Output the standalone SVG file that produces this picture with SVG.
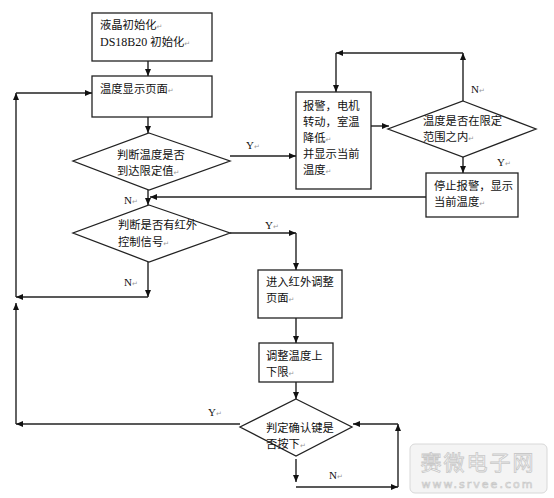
<svg xmlns="http://www.w3.org/2000/svg" width="554" height="498" viewBox="0 0 554 498">
<style>
.box{fill:#fff;stroke:#222;stroke-width:1.3}
.t{font-family:"Noto Sans CJK SC","Liberation Sans",sans-serif;font-size:11.3px;fill:#111}
.lat{font-family:"Liberation Serif",serif;font-size:12px}
.lbl{font-family:"Liberation Serif",serif;font-size:11px;fill:#111}
.pm{font-family:"DejaVu Sans",sans-serif;font-size:7px;fill:#999}
.c line{stroke:#222;stroke-width:1.4;marker-end:url(#ah)}
</style>
<defs>
<marker id="ah" markerUnits="userSpaceOnUse" markerWidth="7" markerHeight="6" refX="7" refY="3" orient="auto">
<path d="M0,0 L7,3 L0,6 z" fill="#111"/>
</marker>
</defs>
<rect width="554" height="498" fill="#fff"/>

<g id="init">
<rect class="box" x="92" y="13" width="120" height="48"/>
<text class="t" x="100" y="29">液晶初始化<tspan class="pm">↵</tspan></text>
<text class="t" x="100" y="46"><tspan class="lat">DS18B20 </tspan>初始化<tspan class="pm">↵</tspan></text>
</g>
<g id="display">
<rect class="box" x="92" y="76" width="120" height="41"/>
<text class="t" x="100" y="93">温度显示页面<tspan class="pm">↵</tspan></text>
</g>
<g id="d1">
<polygon class="box" points="149,133 230,161 149,190 73,161"/>
<text class="t" x="117" y="159">判断温度是否</text>
<text class="t" x="117" y="175">到达限定值<tspan class="pm">↵</tspan></text>
</g>
<g id="alarm">
<rect class="box" x="296" y="92" width="75" height="97"/>
<text class="t" x="303" y="110">报警，电机</text>
<text class="t" x="303" y="126">转动，室温</text>
<text class="t" x="303" y="142">降低<tspan class="pm">↵</tspan></text>
<text class="t" x="303" y="158">并显示当前</text>
<text class="t" x="303" y="174">温度<tspan class="pm">↵</tspan></text>
</g>
<g id="d2">
<polygon class="box" points="463,101 536,129 463,157 388,129"/>
<text class="t" x="423" y="125">温度是否在限定</text>
<text class="t" x="423" y="141">范围之内<tspan class="pm">↵</tspan></text>
</g>
<g id="stop">
<rect class="box" x="426" y="173" width="92" height="44"/>
<text class="t" x="434" y="190">停止报警，显示</text>
<text class="t" x="434" y="206">当前温度<tspan class="pm">↵</tspan></text>
</g>
<g id="d3">
<polygon class="box" points="149,205 230,233 149,262 73,233"/>
<text class="t" x="118" y="229">判断是否有红外</text>
<text class="t" x="118" y="246">控制信号<tspan class="pm">↵</tspan></text>
</g>
<g id="ir">
<rect class="box" x="258" y="270" width="84" height="48"/>
<text class="t" x="266" y="286">进入红外调整</text>
<text class="t" x="266" y="302">页面<tspan class="pm">↵</tspan></text>
</g>
<g id="adjust">
<rect class="box" x="259" y="343" width="74" height="39"/>
<text class="t" x="266" y="360">调整温度上</text>
<text class="t" x="266" y="376">下限<tspan class="pm">↵</tspan></text>
</g>
<g id="d4">
<polygon class="box" points="296,399 352,427 296,456 240,427"/>
<text class="t" x="266" y="432">判定确认键是</text>
<text class="t" x="266" y="448">否按下<tspan class="pm">↵</tspan></text>
</g>

<g id="connectors" class="c">
<line x1="148" y1="61" x2="148" y2="76"/>
<line x1="148" y1="117" x2="148" y2="133"/>
<line x1="230" y1="156" x2="296" y2="156"/>
<line x1="371" y1="126" x2="389" y2="126"/>
<line x1="463" y1="101" x2="463" y2="53"/>
<line x1="463" y1="53" x2="336" y2="53"/>
<line x1="336" y1="53" x2="336" y2="92"/>
<line x1="463" y1="157" x2="463" y2="173"/>
<line x1="426" y1="197" x2="150" y2="197"/>
<line x1="148" y1="190" x2="148" y2="205"/>
<line x1="230" y1="233" x2="296" y2="233"/>
<line x1="296" y1="233" x2="296" y2="270"/>
<line x1="148" y1="262" x2="148" y2="297"/>
<line x1="148" y1="297" x2="16" y2="297"/>
<line x1="16" y1="297" x2="16" y2="93"/>
<line x1="16" y1="93" x2="92" y2="93"/>
<line x1="296" y1="318" x2="296" y2="343"/>
<line x1="296" y1="382" x2="296" y2="399"/>
<line x1="240" y1="424" x2="16" y2="424"/>
<line x1="16" y1="424" x2="16" y2="303"/>
<line x1="296" y1="459" x2="296" y2="482"/>
<line x1="296" y1="487" x2="398" y2="487"/>
<line x1="398" y1="487" x2="398" y2="424"/>
<line x1="398" y1="424" x2="353" y2="424"/>
</g>

<g id="labels">
<text class="lbl" x="246" y="149">Y<tspan class="pm">↵</tspan></text>
<text class="lbl" x="471" y="93">N<tspan class="pm">↵</tspan></text>
<text class="lbl" x="497" y="166">Y<tspan class="pm">↵</tspan></text>
<text class="lbl" x="124" y="204">N<tspan class="pm">↵</tspan></text>
<text class="lbl" x="265" y="229">Y<tspan class="pm">↵</tspan></text>
<text class="lbl" x="124" y="286">N<tspan class="pm">↵</tspan></text>
<text class="lbl" x="208" y="416">Y<tspan class="pm">↵</tspan></text>
<text class="lbl" x="329" y="479">N<tspan class="pm">↵</tspan></text>
</g>

<g id="watermark">
<rect x="410" y="444" width="137" height="49" rx="5" fill="#f4f4f4" stroke="#d8d8d8" stroke-width="1"/>
<text x="478" y="470" text-anchor="middle" font-family="Noto Sans CJK SC, sans-serif" font-size="21" letter-spacing="2" fill="#fbfbfb" stroke="#c8c8c8" stroke-width="0.8">赛微电子网</text>
<text x="478" y="488" text-anchor="middle" font-family="DejaVu Sans, sans-serif" font-size="11" letter-spacing="2" fill="#fbfbfb" stroke="#c8c8c8" stroke-width="0.7">www.srvee.com</text>
</g>
</svg>
